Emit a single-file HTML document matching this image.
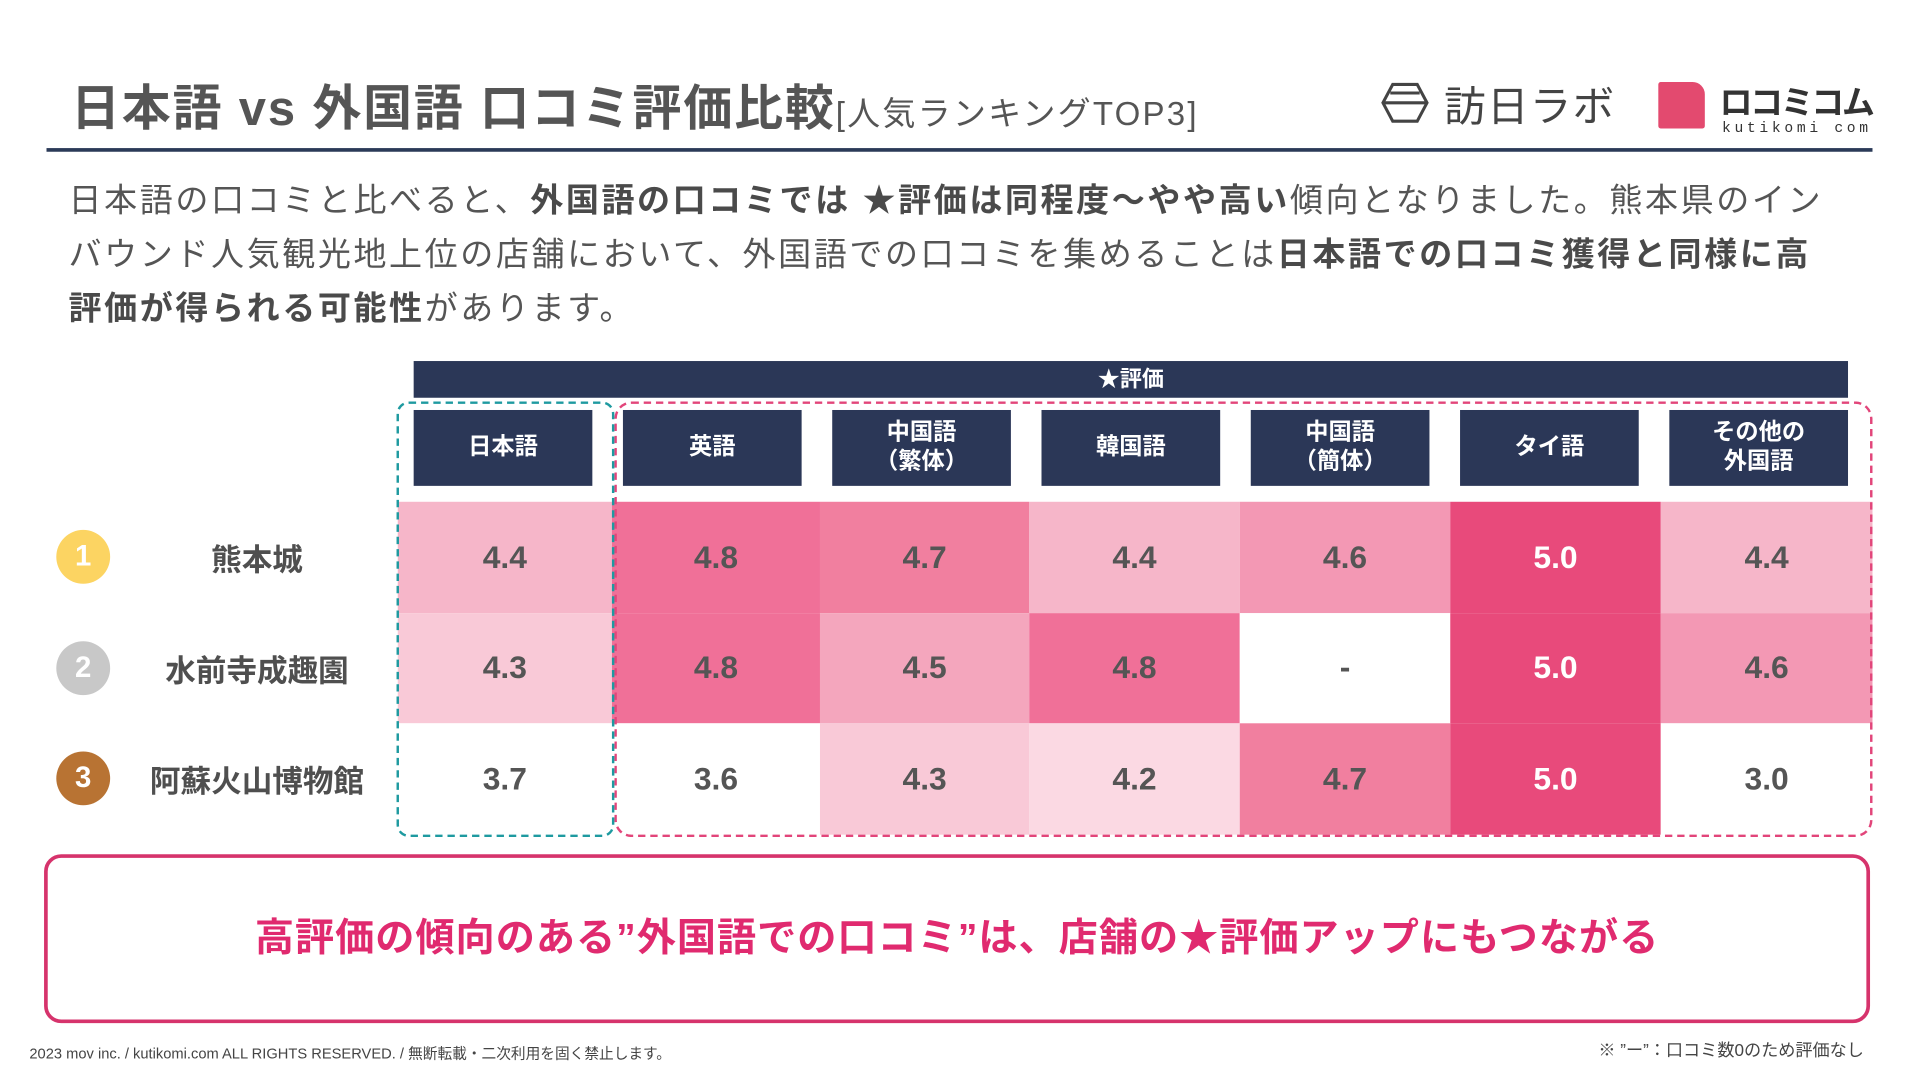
<!DOCTYPE html>
<html><head><meta charset="utf-8">
<style>
html,body{margin:0;padding:0;background:#fff;width:1919px;height:1080px;overflow:hidden}
#s{position:absolute;left:0;top:0;width:1568px;height:882px;transform:scale(1.22385);transform-origin:0 0;font-family:"Liberation Sans","Noto Sans CJK JP",sans-serif;color:#555}
.a{position:absolute}
b{font-weight:700;color:#4a4a4a}
.ch{position:absolute;top:335px;width:146px;height:62px;background:#2b3757;color:#fff;font-weight:700;font-size:19px;line-height:24px;display:flex;align-items:center;justify-content:center;text-align:center}
.cell{position:absolute;display:flex;align-items:center;justify-content:center;font-weight:700;font-size:26px;color:#555}
.rk{position:absolute;left:46px;width:44px;height:44px;border-radius:50%;color:#fff;font-weight:700;font-size:24px;display:flex;align-items:center;justify-content:center}
.nm{position:absolute;left:110px;width:200px;text-align:center;font-weight:700;font-size:25px;color:#4f4f4f}
</style></head><body>
<div id="s">
<div class="a" style="left:58px;top:56px;font-size:40px;font-weight:700;color:#555;white-space:nowrap;letter-spacing:1.5px">日本語 vs 外国語 口コミ評価比較<span style="font-size:27px;font-weight:400;letter-spacing:1.8px">[人気ランキングTOP3]</span></div>
<div class="a" style="left:1128px;top:62px;height:44px;display:flex;align-items:center;white-space:nowrap">
<svg width="40" height="34" viewBox="0 0 40 34"><polygon points="10,2 30,2 38,17 30,32 10,32 2,17" fill="none" stroke="#444" stroke-width="2.5"/><line x1="3" y1="17" x2="37" y2="17" stroke="#444" stroke-width="2.5"/><line x1="8" y1="9" x2="32" y2="9" stroke="#444" stroke-width="2.5"/></svg>
<span style="font-size:34px;color:#444;margin-left:12px;letter-spacing:1px">訪日ラボ</span></div>
<div class="a" style="left:1355px;top:67px;width:38px;height:38px;background:#e34a6f;border-radius:2px 10px 2px 2px"></div>
<div class="a" style="left:1405px;top:62px;font-size:27px;color:#333;letter-spacing:-2px;font-weight:700;white-space:nowrap">ロコミコム</div>
<div class="a" style="left:1407px;top:98px;font-size:12px;color:#333;letter-spacing:3px;font-family:'Liberation Mono',monospace;white-space:nowrap">kutikomi com</div>
<div class="a" style="left:38px;top:121px;width:1492px;height:3px;background:#2b3a58"></div>
<div class="a" style="left:56px;top:142px;width:1500px;font-size:27px;line-height:44px;color:#555;white-space:nowrap;letter-spacing:2.1px">日本語の口コミと比べると、<b>外国語の口コミでは ★評価は同程度～やや高い</b>傾向となりました。熊本県のイン<br>バウンド人気観光地上位の店舗において、外国語での口コミを集めることは<b>日本語での口コミ獲得と同様に高<br>評価が得られる可能性</b>があります。</div>
<div class="a" style="left:338px;top:295px;width:1172px;height:30px;background:#2b3757;color:#fff;font-weight:700;font-size:18px;line-height:30px;text-align:center">★評価</div>
<div id="tbl"></div>
<div class="a" style="left:324px;top:328px;width:174px;height:352px;border:2.5px dashed #1e9aa0;border-radius:10px"></div>
<div class="a" style="left:502px;top:328px;width:1024px;height:352px;border:2.5px dashed #e2457a;border-radius:14px"></div>
<div class="a" style="left:36px;top:698px;width:1492px;height:138px;border:3px solid #d6336c;border-radius:14px;display:flex;align-items:center;justify-content:center;color:#e02a6f;font-weight:700;font-size:32px;letter-spacing:0.8px;box-sizing:border-box;padding-bottom:6px">高評価の傾向のある”外国語での口コミ”は、店舗の★評価アップにもつながる</div>
<div class="a" style="left:24px;top:852px;font-size:12px;color:#444;white-space:nowrap">2023 mov inc. / kutikomi.com ALL RIGHTS RESERVED. / 無断転載・二次利用を固く禁止します。</div>
<div class="a" style="right:45px;top:848px;font-size:14px;color:#444;white-space:nowrap">※ ”ー”：口コミ数0のため評価なし</div>
</div>
<script>
const languages=["日本語","英語","中国語<br>（繁体）","韓国語","中国語<br>（簡体）","タイ語","その他の<br>外国語"];
const spots=["熊本城","水前寺成趣園","阿蘇火山博物館"];
const rankColors=["#fcd462","#c8c8c8","#b87333"];
const row1=[4.4,4.8,4.7,4.4,4.6,5.0,4.4];
const row2=[4.3,4.8,4.5,4.8,null,5.0,4.6];
const row3=[3.7,3.6,4.3,4.2,4.7,5.0,3.0];
const rows=[row1,row2,row3];
const edges=[325,500,670,841,1013,1185,1357,1530];
const rowTop=410,rowH=90.5;
function col(v){if(v===null||v<4.2)return"#ffffff";if(v>=5.0)return"#e84a7b";if(v>=4.8)return"#f07098";if(v>=4.7)return"#f17f9f";if(v>=4.6)return"#f398b4";if(v>=4.5)return"#f4a6bd";if(v>=4.4)return"#f6b6c9";if(v>=4.3)return"#f9c9d7";return"#fbd9e3";}
const t=document.getElementById('tbl');
languages.forEach((l,i)=>{const d=document.createElement('div');d.className='ch';


d.style.left=(338+171*i)+'px';d.innerHTML=l;t.appendChild(d);});
rows.forEach((r,j)=>{
 const y=rowTop+rowH*j;
 const c=document.createElement('div');c.className='rk';
 
 
 c.style.top=(y+rowH/2-22)+'px';c.style.background=rankColors[j];c.textContent=j+1;t.appendChild(c);
 const n=document.createElement('div');n.className='nm';
 
 
 n.style.top=(y+rowH/2-17)+'px';n.textContent=spots[j];t.appendChild(n);
 r.forEach((v,i)=>{const d=document.createElement('div');d.className='cell';
 
 
 d.style.left=edges[i]+'px';d.style.width=(edges[i+1]-edges[i])+'px';d.style.top=y+'px';d.style.height=rowH+'px';
 d.style.background=col(v);if(v!==null&&v>=5.0)d.style.color='#fff';
 d.textContent=v===null?'-':v.toFixed(1);t.appendChild(d);});
});
</script>
</body></html>
